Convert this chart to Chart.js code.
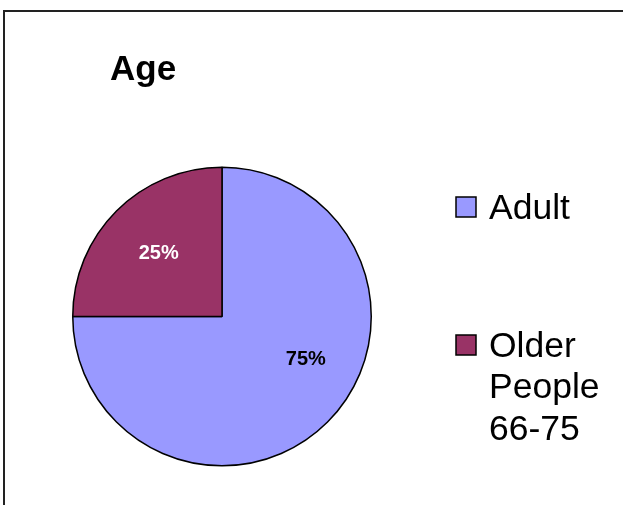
<!DOCTYPE html>
<html>
<head>
<meta charset="utf-8">
<script src="https://cdn.jsdelivr.net/npm/chart.js@4"></script>
<style>
  html, body { margin: 0; padding: 0; background: #fff; }
  #wrap { width: 623px; height: 505px; position: relative; }
</style>
</head>
<body>
<div id="wrap"><canvas id="ageChart" width="623" height="505"></canvas></div>
<script>
const chartTitle = 'Age';
const categories = ['Adult', 'Older People 66-75'];
const shares = [75, 25];
const sliceColors = ['#9999FF', '#993366'];
const labelColors = ['#000000', '#FFFFFF'];

document.addEventListener('DOMContentLoaded', function () {
    const ctx = document.getElementById('ageChart').getContext('2d');
    const FONT = '"Liberation Sans", Arial, sans-serif';

    // frame lines, title and wrapped legend, drawn the way the old office chart does
    const decorations = {
        id: 'decorations',
        afterDraw(chart, args, opts) {
            const c = chart.ctx;
            c.save();
            c.strokeStyle = '#222';
            c.lineWidth = 2;
            c.beginPath();
            c.moveTo(4, 505);
            c.lineTo(4, 11);
            c.lineTo(623, 11);
            c.stroke();

            c.fillStyle = '#000';
            c.font = 'bold 35px ' + FONT;
            c.textBaseline = 'alphabetic';
            c.fillText(chartTitle, opts.titleX, opts.titleY);

            const ds = chart.data.datasets[0];
            c.font = opts.legendSize + 'px ' + FONT;
            c.textBaseline = 'middle';
            chart.data.labels.forEach((label, i) => {
                const y0 = opts.legendY[i];
                const box = opts.boxSize;
                c.fillStyle = ds.backgroundColor[i];
                c.fillRect(opts.legendX, y0 - box / 2, box, box);
                c.strokeStyle = '#000';
                c.lineWidth = 1.5;
                c.strokeRect(opts.legendX, y0 - box / 2, box, box);
                // simple word wrap
                const words = label.split(' ');
                const lines = [];
                let line = '';
                words.forEach(w => {
                    const test = line ? line + ' ' + w : w;
                    if (line && c.measureText(test).width > opts.wrapWidth) {
                        lines.push(line);
                        line = w;
                    } else {
                        line = test;
                    }
                });
                lines.push(line);
                c.fillStyle = '#000';
                lines.forEach((l, k) => {
                    c.fillText(l, opts.legendX + box + 13, y0 + 2 + k * opts.lineHeight);
                });
            });
            c.restore();
        }
    };

    const sliceLabels = {
        id: 'sliceLabels',
        afterDatasetsDraw(chart, args, opts) {
            const c = chart.ctx;
            const meta = chart.getDatasetMeta(0);
            c.save();
            c.font = 'bold 20px ' + FONT;
            c.textAlign = 'center';
            c.textBaseline = 'middle';
            meta.data.forEach((arc, i) => {
                const p = arc.getProps(['x', 'y', 'startAngle', 'endAngle', 'outerRadius'], true);
                const mid = (p.startAngle + p.endAngle) / 2 + opts.angleShift[i] * Math.PI / 180;
                const r = p.outerRadius * opts.radial[i];
                c.fillStyle = labelColors[i];
                c.fillText(shares[i] + '%', p.x + Math.cos(mid) * r, p.y + Math.sin(mid) * r);
            });
            c.restore();
        }
    };

    new Chart(ctx, {
        type: 'pie',
        data: {
            labels: categories,
            datasets: [{
                data: shares,
                backgroundColor: sliceColors,
                borderColor: '#000',
                borderWidth: 1.5
            }]
        },
        options: {
            responsive: false,
            animation: false,
            layout: { padding: { left: 72, top: 166, right: 251, bottom: 38 } },
            plugins: {
                legend: { display: false },
                tooltip: { enabled: false },
                title: { display: false },
                decorations: {
                    titleX: 110, titleY: 80,
                    legendX: 456, legendY: [207, 345],
                    boxSize: 20, legendSize: 35.5, lineHeight: 41.5, wrapWidth: 132
                },
                sliceLabels: { radial: [0.63, 0.6], angleShift: [-18, 0] }
            }
        },
        plugins: [sliceLabels, decorations]
    });
});
</script>
</body>
</html>
